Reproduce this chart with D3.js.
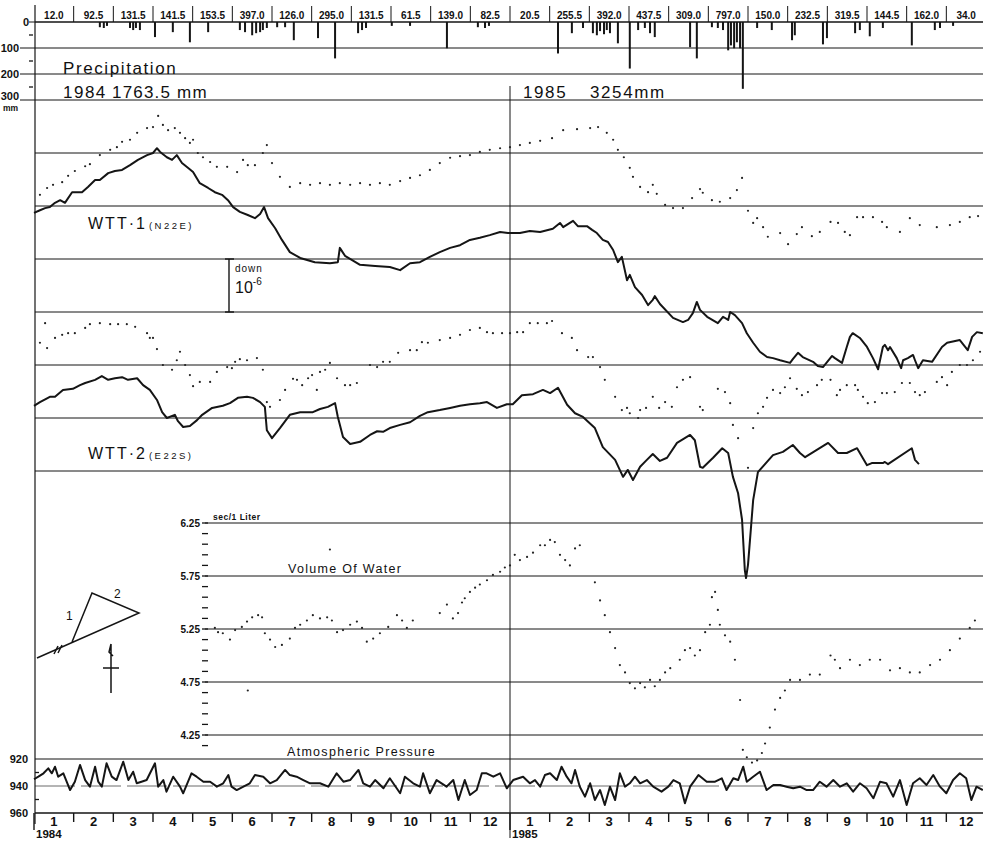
<!DOCTYPE html>
<html><head><meta charset="utf-8">
<script src="https://cdn.jsdelivr.net/npm/d3@7"></script>
<style>
body{margin:0;background:#fff}
text{font-family:"Liberation Sans",Arial,sans-serif;fill:#111}
</style></head>
<body><svg id="c" width="983" height="842"></svg>
<script>
// ---------------- DATA ----------------
const monthNames = ["1","2","3","4","5","6","7","8","9","10","11","12"];
const yearNames = ["1984","1985"];
const rainMonthTotals = ["12.0","92.5","131.5","141.5","153.5","397.0","126.0","295.0","131.5","61.5","139.0","82.5",
  "20.5","255.5","392.0","437.5","309.0","797.0","150.0","232.5","319.5","144.5","162.0","34.0"];
const yearTotalLabels = [["1984","1763.5 mm"],["1985","3254mm"]];
const precipTicks = [0,100,200,300];
const precipMinor = [50,150,250];
const volumeTicks = [6.25,5.75,5.25,4.75,4.25];
const pressureTicks = [920,940,960];
const pressureMinor = [930,950];
// time in months since 1 Jan 1984, daily rainfall in mm
const rainDaily = [[1.66,20],[1.76,23],[1.84,15],[2.42,23],[2.50,31],[2.57,23],[2.67,31],[3.05,58],[3.50,39],[3.93,78],
  [4.39,39],[5.19,31],[5.32,39],[5.50,51],[5.60,43],[5.70,39],[5.77,31],[5.87,23],[6.13,20],[6.33,20],[6.55,70],
  [7.16,62],[7.59,140],[8.17,43],[8.27,31],[8.37,23],[9.02,15],[9.48,15],[10.41,101],[11.19,20],[11.37,23],[11.47,15],
  [13.21,121],[13.56,43],[13.84,23],[14.09,43],[14.19,51],[14.27,35],[14.37,47],[14.44,31],[14.52,43],[14.72,82],
  [15.02,179],[15.23,31],[15.40,23],[15.53,43],[15.65,58],[16.54,97],[16.71,140],[17.09,20],[17.24,23],[17.37,31],
  [17.50,109],[17.57,90],[17.65,101],[17.72,78],[17.80,101],[17.87,257],[18.23,23],[18.60,31],[19.11,70],[19.18,51],
  [19.89,86],[19.99,62],[20.70,43],[20.82,31],[21.07,55],[21.40,23],[22.13,90],[22.71,31],[22.84,23],[23.17,15]];
// tilt (x10^-6, downward) for WTT-1 (N22E)
const wtt1Line = [[0.00,2.13],[0.15,2.08],[0.28,2.04],[0.40,2.02],[0.53,1.94],[0.66,1.89],[0.78,1.94],[0.96,1.74],[1.21,1.74],[1.36,1.64],[1.54,1.51],[1.66,1.51],[1.87,1.38],[2.04,1.34],[2.22,1.32],[2.42,1.23],[2.62,1.13],[2.85,1.04],[3.00,1.00],[3.10,0.91],[3.18,0.98],[3.35,1.08],[3.48,1.13],[3.60,1.04],[3.73,1.19],[3.88,1.28],[4.01,1.36],[4.18,1.57],[4.39,1.66],[4.56,1.74],[4.74,1.79],[4.89,1.89],[5.02,2.02],[5.19,2.11],[5.39,2.17],[5.57,2.23],[5.70,2.15],[5.80,2.02],[5.90,2.23],[6.08,2.42],[6.25,2.64],[6.45,2.87],[6.71,2.98],[7.08,3.06],[7.46,3.08],[7.66,3.06],[7.71,2.79],[7.84,2.94],[8.02,3.02],[8.22,3.11],[8.60,3.13],[8.97,3.15],[9.23,3.21],[9.48,3.08],[9.73,3.06],[9.98,2.96],[10.23,2.87],[10.49,2.79],[10.74,2.74],[10.99,2.64],[11.24,2.60],[11.49,2.55],[11.75,2.49],[11.95,2.51],[12.25,2.51],[12.50,2.47],[12.76,2.49],[13.08,2.43],[13.26,2.32],[13.34,2.40],[13.59,2.28],[13.71,2.38],[13.94,2.38],[14.07,2.45],[14.19,2.51],[14.34,2.64],[14.47,2.68],[14.60,2.83],[14.72,3.06],[14.82,2.96],[14.95,3.40],[15.02,3.30],[15.15,3.53],[15.33,3.68],[15.48,3.87],[15.60,3.77],[15.65,3.70],[15.78,3.85],[16.11,4.11],[16.36,4.19],[16.49,4.15],[16.61,4.02],[16.71,3.81],[16.79,3.96],[16.97,4.09],[17.24,4.21],[17.37,4.09],[17.50,4.15],[17.55,4.00],[17.67,4.06],[17.85,4.21],[17.97,4.40],[18.13,4.58],[18.30,4.75],[18.48,4.85],[18.63,4.87],[18.81,4.91],[19.06,4.96],[19.13,4.89],[19.26,4.77],[19.38,4.85],[19.64,4.94],[19.76,5.02],[19.89,5.04],[20.12,4.83],[20.19,4.87],[20.37,4.96],[20.49,4.66],[20.57,4.47],[20.64,4.40],[20.82,4.49],[21.00,4.66],[21.15,4.87],[21.28,5.08],[21.40,4.66],[21.45,4.62],[21.53,4.72],[21.58,4.66],[21.75,4.87],[21.86,5.06],[21.91,4.91],[22.03,4.87],[22.16,4.81],[22.21,4.91],[22.29,5.06],[22.41,4.91],[22.64,4.94],[22.89,4.66],[23.02,4.58],[23.34,4.53],[23.54,4.72],[23.65,4.47],[23.77,4.38],[23.92,4.40]];
const wtt1Dots = [[0.15,1.79],[0.33,1.66],[0.48,1.60],[0.71,1.55],[0.86,1.43],[1.03,1.34],[1.29,1.25],[1.41,1.21],[1.66,1.04],[1.92,0.94],[2.09,0.89],[2.22,0.79],[2.42,0.75],[2.60,0.62],[2.85,0.53],[3.00,0.51],[3.13,0.30],[3.25,0.47],[3.38,0.57],[3.55,0.53],[3.68,0.62],[3.81,0.72],[3.93,0.81],[4.01,0.75],[4.13,1.00],[4.26,1.08],[4.44,1.17],[4.61,1.26],[4.87,1.26],[5.12,1.36],[5.27,1.13],[5.39,1.23],[5.57,1.23],[5.77,1.00],[5.87,0.85],[6.00,1.19],[6.20,1.45],[6.45,1.64],[6.71,1.57],[6.96,1.60],[7.21,1.57],[7.46,1.60],[7.71,1.57],[7.97,1.60],[8.22,1.57],[8.47,1.60],[8.72,1.57],[8.97,1.60],[9.23,1.53],[9.48,1.47],[9.73,1.42],[9.98,1.32],[10.23,1.19],[10.49,1.09],[10.74,1.06],[10.99,1.04],[11.24,0.98],[11.49,0.94],[11.75,0.91],[12.00,0.89],[12.25,0.85],[12.50,0.81],[12.76,0.77],[13.06,0.72],[13.34,0.57],[13.69,0.55],[14.02,0.53],[14.22,0.51],[14.44,0.62],[14.60,0.75],[14.72,0.94],[14.87,1.08],[15.02,1.28],[15.10,1.45],[15.28,1.64],[15.48,1.74],[15.60,1.60],[15.70,1.77],[15.91,1.98],[16.11,2.04],[16.36,2.04],[16.59,1.85],[16.79,1.68],[16.86,1.75],[17.09,1.89],[17.29,1.92],[17.55,1.85],[17.72,1.70],[17.85,1.47],[18.00,2.09],[18.13,2.32],[18.23,2.23],[18.38,2.40],[18.50,2.58],[18.81,2.51],[19.01,2.72],[19.23,2.53],[19.36,2.40],[19.61,2.57],[19.81,2.49],[20.08,2.30],[20.27,2.32],[20.44,2.49],[20.57,2.55],[20.75,2.21],[20.90,2.21],[21.15,2.21],[21.38,2.30],[21.50,2.40],[21.83,2.49],[22.08,2.23],[22.33,2.36],[22.76,2.40],[23.09,2.36],[23.34,2.30],[23.59,2.21],[23.80,2.19]];
// tilt for WTT-2 (E22S)
const wtt2Line = [[0.00,5.77],[0.15,5.70],[0.40,5.60],[0.53,5.60],[0.73,5.47],[0.98,5.45],[1.16,5.38],[1.29,5.34],[1.54,5.28],[1.71,5.21],[1.87,5.28],[2.04,5.25],[2.22,5.23],[2.37,5.28],[2.60,5.25],[2.75,5.38],[2.92,5.47],[3.10,5.66],[3.23,5.89],[3.35,6.00],[3.55,5.94],[3.63,6.06],[3.76,6.17],[3.93,6.15],[4.11,6.04],[4.24,5.94],[4.49,5.81],[4.76,5.77],[4.94,5.72],[5.14,5.62],[5.37,5.60],[5.52,5.62],[5.70,5.70],[5.82,5.79],[5.87,6.23],[6.00,6.38],[6.20,6.19],[6.45,5.94],[6.71,5.89],[7.03,5.89],[7.21,5.83],[7.41,5.79],[7.59,5.72],[7.66,5.98],[7.79,6.36],[7.97,6.49],[8.22,6.45],[8.47,6.32],[8.65,6.25],[8.80,6.26],[8.97,6.19],[9.23,6.13],[9.48,6.08],[9.73,5.96],[9.93,5.89],[10.23,5.85],[10.49,5.81],[10.74,5.77],[10.99,5.74],[11.24,5.72],[11.42,5.70],[11.67,5.81],[11.92,5.74],[12.07,5.74],[12.30,5.57],[12.58,5.55],[12.83,5.47],[13.01,5.53],[13.21,5.43],[13.44,5.75],[13.64,5.91],[13.84,5.98],[14.14,6.19],[14.34,6.55],[14.65,6.79],[14.85,7.11],[14.97,6.98],[15.10,7.17],[15.28,6.92],[15.45,6.79],[15.60,6.68],[15.78,6.81],[15.96,6.75],[16.21,6.47],[16.54,6.32],[16.66,6.42],[16.79,6.92],[16.86,6.94],[17.12,6.75],[17.35,6.57],[17.50,6.66],[17.62,7.11],[17.75,7.42],[17.85,7.92],[17.92,8.87],[17.95,9.02],[18.00,8.77],[18.08,8.02],[18.13,7.55],[18.25,7.02],[18.63,6.70],[18.88,6.64],[19.13,6.51],[19.31,6.66],[19.44,6.74],[20.02,6.47],[20.27,6.66],[20.49,6.66],[20.75,6.57],[21.00,6.89],[21.12,6.85],[21.40,6.85],[21.45,6.83],[21.53,6.87],[22.13,6.57],[22.21,6.79],[22.31,6.87]];
const wtt2Dots = [[0.15,4.58],[0.28,4.21],[0.33,4.68],[0.53,4.49],[0.71,4.43],[0.86,4.40],[1.03,4.40],[1.29,4.30],[1.41,4.23],[1.66,4.21],[1.92,4.23],[2.12,4.23],[2.34,4.23],[2.55,4.28],[2.85,4.40],[2.92,4.49],[3.00,4.49],[3.10,4.70],[3.25,5.00],[3.48,5.09],[3.60,4.91],[3.68,4.75],[3.81,5.00],[3.93,5.19],[4.01,5.40],[4.18,5.32],[4.44,5.32],[4.61,5.13],[4.87,5.04],[4.99,5.06],[5.07,4.94],[5.19,4.89],[5.37,4.91],[5.62,4.87],[5.77,5.09],[5.87,5.70],[5.95,5.79],[6.20,5.66],[6.33,5.47],[6.53,5.26],[6.63,5.28],[6.76,5.38],[6.91,5.25],[7.01,5.19],[7.13,5.47],[7.21,5.13],[7.34,5.09],[7.46,4.96],[7.64,5.25],[7.84,5.38],[7.97,5.38],[8.14,5.34],[8.47,5.00],[8.65,5.04],[8.80,4.94],[8.97,4.94],[9.18,4.77],[9.48,4.72],[9.65,4.72],[9.78,4.57],[9.93,4.58],[10.23,4.53],[10.49,4.49],[10.74,4.43],[10.99,4.34],[11.24,4.30],[11.42,4.38],[11.57,4.40],[11.80,4.40],[12.00,4.40],[12.18,4.38],[12.33,4.38],[12.50,4.21],[12.70,4.21],[12.93,4.21],[13.06,4.17],[13.31,4.40],[13.56,4.49],[13.69,4.72],[13.97,4.85],[14.09,4.85],[14.27,5.04],[14.39,5.28],[14.65,5.60],[14.82,5.85],[14.95,5.81],[15.02,5.91],[15.23,6.00],[15.28,5.85],[15.43,5.81],[15.60,5.60],[15.76,5.81],[15.91,5.70],[16.08,5.79],[16.21,5.42],[16.36,5.28],[16.54,5.23],[16.79,5.79],[16.86,5.85],[17.24,5.45],[17.42,5.51],[17.55,5.72],[17.62,6.13],[17.75,6.38],[18.00,6.94],[18.13,6.19],[18.25,5.91],[18.38,5.79],[18.48,5.62],[18.63,5.47],[18.81,5.53],[18.93,5.42],[19.06,5.25],[19.23,5.45],[19.36,5.57],[19.51,5.51],[19.74,5.38],[19.86,5.28],[20.08,5.28],[20.24,5.57],[20.32,5.47],[20.49,5.38],[20.70,5.38],[20.77,5.47],[20.90,5.60],[21.02,5.72],[21.20,5.70],[21.38,5.53],[21.50,5.53],[21.70,5.51],[21.88,5.34],[22.08,5.34],[22.21,5.51],[22.33,5.57],[22.46,5.51],[22.76,5.32],[22.89,5.23],[23.02,5.38],[23.14,5.13],[23.34,5.00],[23.52,5.00],[23.67,4.91],[23.85,4.75]];
// volume of water, sec / 1 Liter
const waterVolume = [[4.56,5.26],[4.64,5.22],[4.76,5.21],[4.94,5.15],[5.07,5.24],[5.24,5.27],[5.37,5.32],[5.39,4.67],[5.50,5.36],[5.65,5.38],[5.75,5.36],[5.82,5.21],[5.95,5.15],[6.08,5.08],[6.25,5.10],[6.45,5.16],[6.58,5.26],[6.71,5.29],[6.88,5.33],[7.03,5.38],[7.21,5.35],[7.39,5.36],[7.46,6.00],[7.51,5.33],[7.64,5.22],[7.79,5.24],[7.97,5.29],[8.14,5.32],[8.27,5.26],[8.39,5.13],[8.55,5.16],[8.72,5.21],[8.93,5.27],[9.15,5.38],[9.28,5.33],[9.40,5.26],[9.55,5.33],[10.23,5.40],[10.41,5.48],[10.56,5.35],[10.69,5.40],[10.79,5.50],[10.86,5.54],[10.99,5.60],[11.12,5.64],[11.24,5.67],[11.42,5.71],[11.57,5.76],[11.75,5.79],[11.87,5.83],[12.00,5.85],[12.12,5.95],[12.25,5.90],[12.43,5.93],[12.58,5.97],[12.76,6.04],[12.88,6.04],[13.01,6.09],[13.13,6.07],[13.26,5.95],[13.39,5.90],[13.51,5.85],[13.64,6.01],[13.76,6.04],[14.14,5.69],[14.27,5.52],[14.39,5.38],[14.52,5.22],[14.65,5.07],[14.77,4.91],[14.90,4.84],[15.02,4.74],[15.15,4.69],[15.28,4.74],[15.40,4.70],[15.53,4.77],[15.65,4.71],[15.78,4.77],[15.91,4.84],[16.04,4.88],[16.28,4.96],[16.41,5.05],[16.54,5.07],[16.66,5.00],[16.79,5.05],[16.92,5.22],[17.04,5.29],[17.09,5.55],[17.17,5.60],[17.24,5.43],[17.29,5.29],[17.42,5.19],[17.55,5.13],[17.67,4.96],[17.80,4.58],[17.87,4.11],[17.97,4.04],[18.10,3.99],[18.23,4.01],[18.35,4.08],[18.43,4.17],[18.55,4.32],[18.68,4.49],[18.81,4.60],[18.93,4.67],[19.06,4.77],[19.31,4.77],[19.56,4.82],[19.81,4.82],[20.08,5.00],[20.19,4.96],[20.32,4.88],[20.57,4.96],[20.82,4.91],[21.07,4.96],[21.33,4.96],[21.58,4.86],[21.83,4.88],[22.08,4.84],[22.33,4.84],[22.59,4.91],[22.84,4.96],[23.09,5.05],[23.34,5.16],[23.59,5.26],[23.72,5.33]];
// atmospheric pressure, hPa
const atmPressure = [[0.00,935.0],[0.11,933.1],[0.24,930.6],[0.36,926.9],[0.45,930.6],[0.53,925.7],[0.61,933.1],[0.74,930.6],[0.91,943.0],[1.03,936.8],[1.16,924.4],[1.29,935.6],[1.41,940.5],[1.54,925.7],[1.62,936.8],[1.71,940.5],[1.83,923.2],[1.96,933.1],[2.08,935.6],[2.25,922.0],[2.38,935.6],[2.50,929.4],[2.59,938.0],[2.71,936.8],[2.84,935.6],[3.05,923.2],[3.13,940.5],[3.26,935.6],[3.34,944.2],[3.51,933.1],[3.68,940.5],[3.76,945.4],[3.97,930.6],[4.10,933.1],[4.27,936.8],[4.44,936.8],[4.61,940.5],[4.77,938.0],[4.90,931.9],[4.98,940.5],[5.11,943.0],[5.28,940.5],[5.44,938.0],[5.57,931.9],[5.78,933.1],[5.95,938.0],[6.12,935.6],[6.33,928.1],[6.45,931.9],[6.62,933.1],[6.79,935.6],[6.96,938.0],[7.21,938.0],[7.42,940.5],[7.63,930.6],[7.80,936.8],[7.97,935.6],[8.18,928.1],[8.30,938.0],[8.47,940.5],[8.60,935.6],[8.81,941.7],[8.97,934.3],[9.23,945.4],[9.35,933.1],[9.56,938.0],[9.73,940.5],[9.81,930.6],[9.98,945.4],[10.15,935.6],[10.40,940.5],[10.57,935.6],[10.70,950.4],[10.86,935.6],[10.99,946.7],[11.16,943.0],[11.29,930.6],[11.41,930.6],[11.58,933.1],[11.75,930.6],[11.92,941.7],[12.08,935.6],[12.33,933.1],[12.50,938.0],[12.63,935.6],[12.76,940.5],[12.88,931.9],[13.01,930.6],[13.18,935.6],[13.30,925.7],[13.43,933.1],[13.55,938.0],[13.64,928.1],[13.76,940.5],[13.89,947.9],[14.02,938.0],[14.14,950.4],[14.27,943.0],[14.39,954.1],[14.52,940.5],[14.65,950.4],[14.77,930.6],[14.90,940.5],[15.02,938.0],[15.15,933.1],[15.28,938.0],[15.45,935.6],[15.61,940.5],[15.82,944.2],[15.99,940.5],[16.12,935.6],[16.28,938.0],[16.41,952.8],[16.54,940.5],[16.66,935.6],[16.75,931.9],[16.96,936.8],[17.17,936.8],[17.34,934.3],[17.46,943.0],[17.63,934.3],[17.75,935.6],[17.88,925.7],[17.97,936.8],[18.13,933.1],[18.30,929.4],[18.47,943.0],[18.64,939.3],[18.81,939.3],[18.97,940.5],[19.14,941.7],[19.31,940.5],[19.48,943.0],[19.64,943.0],[19.81,936.8],[19.98,940.5],[20.15,935.6],[20.32,940.5],[20.49,938.0],[20.65,944.2],[20.82,938.0],[20.99,941.7],[21.16,949.1],[21.33,936.8],[21.49,938.0],[21.66,947.9],[21.83,935.6],[22.00,954.1],[22.16,938.0],[22.33,934.3],[22.50,939.3],[22.67,931.9],[22.84,940.5],[23.00,945.4],[23.17,935.6],[23.34,930.6],[23.50,934.3],[23.63,950.4],[23.76,940.5],[23.92,943.0]];

// ---------------- SCALES ----------------
const svg = d3.select("#c");
const INK = "#151515";
const XL = 35, XR = 983;
const x  = d3.scaleLinear([0,24],[34,986]);
const yP = d3.scaleLinear([0,300],[22,100]);
const yT = d3.scaleLinear([0,7],[100,471]);
const yV = d3.scaleLinear([6.25,4.25],[523,735]);
const yA = d3.scaleLinear([920,960],[759,813]);

const grid = svg.append("g").attr("stroke",INK).attr("stroke-width",1).attr("fill","none");
function hl(y,x1,x2,w,dash){const l=grid.append("line").attr("x1",x1).attr("x2",x2).attr("y1",y).attr("y2",y);
  if(w) l.attr("stroke-width",w); if(dash) l.attr("stroke-dasharray",dash); return l;}

precipTicks.filter(d=>d>0).forEach(d=>hl(yP(d),20,XR));
hl(yP(0),XL,XR,1.6);
d3.range(1,8).forEach(v=>hl(yT(v),XL,XR));
volumeTicks.forEach(v=>hl(yV(v),205,XR));
hl(yA(920),XL,XR,1.2);
hl(yA(940),XL,XR,0.8,"40,6").attr("stroke","#444");
hl(yA(960),XL,XR,1.4);
grid.append("line").attr("x1",XL).attr("x2",XL).attr("y1",5).attr("y2",824).attr("stroke-width",1.2);
grid.append("line").attr("x1",x(12)).attr("x2",x(12)).attr("y1",86).attr("y2",838).attr("stroke-width",1);

// ---------------- PRECIPITATION ----------------
const topG = svg.append("g");
d3.range(1,25).forEach(i=>{
  topG.append("line").attr("x1",x(i)).attr("x2",x(i)).attr("y1",6).attr("y2",yP(0)).attr("stroke",INK).attr("stroke-width",1);
});
topG.selectAll("text.mt").data(rainMonthTotals).join("text").attr("class","mt")
  .attr("x",(d,i)=>x(i+0.5)).attr("y",19).attr("text-anchor","middle")
  .attr("font-size",10).attr("font-weight","bold").text(d=>d);
topG.selectAll("rect.rain").data(rainDaily).join("rect").attr("class","rain")
  .attr("x",d=>x(d[0])-1).attr("y",yP(0)).attr("width",2).attr("height",d=>yP(d[1])-yP(0)).attr("fill",INK);
precipTicks.forEach(d=>{
  topG.append("text").attr("x",d===0?29:19).attr("y",yP(d)+(d===300?0:4)).attr("text-anchor","end")
    .attr("font-size",11).attr("font-weight","bold").text(d);
  if(d===0) topG.append("line").attr("x1",29).attr("x2",XL).attr("y1",yP(0)).attr("y2",yP(0)).attr("stroke",INK);
});
topG.append("text").attr("x",3).attr("y",yP(300)+11).attr("font-size",8.5).attr("font-weight","bold").text("mm");
precipMinor.forEach(d=>topG.append("line").attr("x1",29).attr("x2",33).attr("y1",yP(d)).attr("y2",yP(d)).attr("stroke",INK).attr("stroke-width",1.3));
topG.append("text").attr("x",63).attr("y",74).attr("font-size",17).attr("letter-spacing",1.6).text("Precipitation");
topG.append("text").attr("x",63).attr("y",98).attr("font-size",17).attr("letter-spacing",1.5).text(yearTotalLabels[0][0]);
topG.append("text").attr("x",112).attr("y",98).attr("font-size",17).attr("letter-spacing",1.2).text(yearTotalLabels[0][1]);
topG.append("text").attr("x",523).attr("y",98).attr("font-size",17).attr("letter-spacing",1.6).text(yearTotalLabels[1][0]);
topG.append("text").attr("x",590).attr("y",98).attr("font-size",17).attr("letter-spacing",1.6).text(yearTotalLabels[1][1]);

// ---------------- TILT ----------------
const line = d3.line().x(d=>x(d[0]));
const tilt = svg.append("g");
tilt.append("path").datum(wtt1Line).attr("d",line.y(d=>yT(d[1]))).attr("fill","none").attr("stroke",INK).attr("stroke-width",2).attr("stroke-linejoin","round");
tilt.append("path").datum(wtt2Line).attr("d",line.y(d=>yT(d[1]))).attr("fill","none").attr("stroke",INK).attr("stroke-width",2).attr("stroke-linejoin","round");
tilt.selectAll("circle.d1").data(wtt1Dots).join("circle").attr("class","d1").attr("cx",d=>x(d[0])).attr("cy",d=>yT(d[1])).attr("r",1.1).attr("fill","#222");
tilt.selectAll("circle.d2").data(wtt2Dots).join("circle").attr("class","d2").attr("cx",d=>x(d[0])).attr("cy",d=>yT(d[1])).attr("r",1.1).attr("fill","#222");

const l1 = tilt.append("text").attr("x",88).attr("y",229).attr("font-size",16).attr("letter-spacing",2);
l1.append("tspan").text("WTT·1");
l1.append("tspan").attr("font-size",9.5).attr("letter-spacing",2.5).attr("dx",2).text("(N22E)");
const l2 = tilt.append("text").attr("x",88).attr("y",459).attr("font-size",16).attr("letter-spacing",2);
l2.append("tspan").text("WTT·2");
l2.append("tspan").attr("font-size",9.5).attr("letter-spacing",2.5).attr("dx",2).text("(E22S)");

const sb = tilt.append("g").attr("stroke",INK).attr("stroke-width",1.4);
sb.append("line").attr("x1",229).attr("x2",229).attr("y1",yT(3)).attr("y2",yT(4));
sb.append("line").attr("x1",225).attr("x2",234).attr("y1",yT(3)).attr("y2",yT(3));
sb.append("line").attr("x1",225).attr("x2",234).attr("y1",yT(4)).attr("y2",yT(4));
tilt.append("text").attr("x",235).attr("y",272).attr("font-size",10).attr("letter-spacing",1).text("down");
const e6 = tilt.append("text").attr("x",235).attr("y",293).attr("font-size",16);
e6.append("tspan").text("10");
e6.append("tspan").attr("font-size",10).attr("dy",-8).text("-6");

// ---------------- VOLUME OF WATER ----------------
const vol = svg.append("g");
d3.range(0,22).forEach(k=>{
  const v = 6.25 - k*0.1;
  vol.append("line").attr("x1",202).attr("x2",208).attr("y1",yV(v)).attr("y2",yV(v)).attr("stroke",INK).attr("stroke-width",1.3);
});
volumeTicks.forEach(v=>vol.append("text").attr("x",200).attr("y",yV(v)+4).attr("text-anchor","end")
  .attr("font-size",10).attr("font-weight","bold").text(v.toFixed(2)));
vol.append("text").attr("x",213).attr("y",520).attr("font-size",8.5).attr("font-weight","bold").attr("letter-spacing",0.5).text("sec/1 Liter");
vol.append("text").attr("x",288).attr("y",573).attr("font-size",12.5).attr("letter-spacing",1.3).text("Volume Of Water");
vol.selectAll("circle.v").data(waterVolume).join("circle").attr("class","v").attr("cx",d=>x(d[0])).attr("cy",d=>yV(d[1])).attr("r",1.1).attr("fill","#222");

// ---------------- ATMOSPHERIC PRESSURE ----------------
const atm = svg.append("g");
atm.append("text").attr("x",287).attr("y",756).attr("font-size",12.5).attr("letter-spacing",1.3).text("Atmospheric Pressure");
atm.append("path").datum(atmPressure).attr("d",line.y(d=>yA(d[1]))).attr("fill","none").attr("stroke",INK).attr("stroke-width",2).attr("stroke-linejoin","round");
pressureTicks.forEach(p=>atm.append("text").attr("x",28).attr("y",yA(p)+4).attr("text-anchor","end")
  .attr("font-size",11).attr("font-weight","bold").text(p));
pressureMinor.forEach(p=>atm.append("line").attr("x1",XL).attr("x2",XL+4).attr("y1",yA(p)).attr("y2",yA(p)).attr("stroke",INK).attr("stroke-width",1.3));

// ---------------- BOTTOM TIME AXIS ----------------
const bx = svg.append("g");
d3.range(0,25).forEach(i=>{
  const longT = (i%12===0);
  bx.append("line").attr("x1",x(i)).attr("x2",x(i)).attr("y1",yA(960)).attr("y2",longT?830:822).attr("stroke",INK).attr("stroke-width",1.4);
});
d3.range(0,24).forEach(i=>{
  bx.append("text").attr("x",x(i+0.5)).attr("y",826).attr("text-anchor","middle")
    .attr("font-size",13).attr("font-weight","bold").text(monthNames[i%12]);
});
yearNames.forEach((yn,j)=>bx.append("text").attr("x",x(j*12)+2).attr("y",838)
  .attr("font-size",11.5).attr("font-weight","bold").text(yn));

// ---------------- ORIENTATION SKETCH ----------------
const sk = svg.append("g").attr("stroke",INK).attr("stroke-width",1.5).attr("fill","none");
sk.append("path").attr("d","M37,658 L139,613 L92,593 L72,642");
sk.append("path").attr("d","M54,654 L58,646 M58,653 L62,645");
sk.append("path").attr("d","M111,693 L111,644 M103,668 L119,668 M111,644 L109,652 L113,656");
svg.append("text").attr("x",66).attr("y",620).attr("font-size",12).text("1");
svg.append("text").attr("x",114).attr("y",598).attr("font-size",12).text("2");
</script>
</body></html>
